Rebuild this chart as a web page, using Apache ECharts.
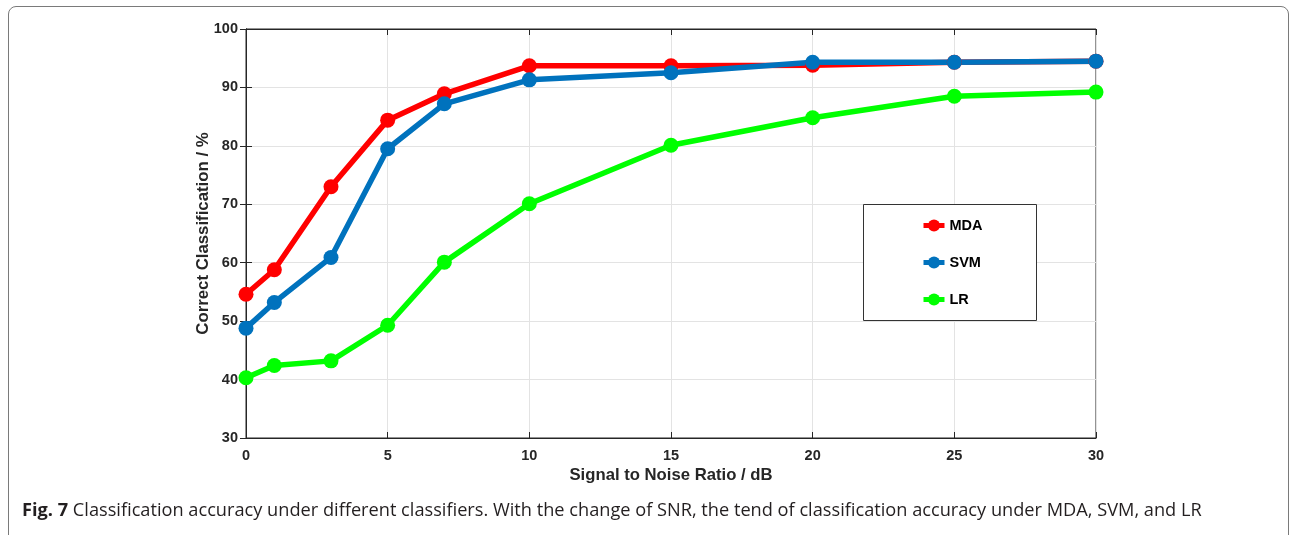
<!DOCTYPE html>
<html>
<head>
<meta charset="utf-8">
<script src="https://cdn.jsdelivr.net/npm/echarts@6/dist/echarts.min.js"></script>
<style>
  html, body { margin: 0; padding: 0; background: #fff; }
  #frame {
    position: absolute; left: 8px; top: 6px; width: 1281px; height: 540px;
    border: 1px solid #7a7a7a; border-radius: 8px; box-sizing: border-box;
  }
  #chart { position: absolute; left: 0; top: 0; width: 1292px; height: 535px; }
</style>
</head>
<body>
<div id="frame"></div>
<div id="chart"></div>
<script>
// SNR values (dB)
const snr = [0, 1, 3, 5, 7, 10, 15, 20, 25, 30];
// accuracy (%)
const mda = [54.6, 58.8, 73.0, 84.4, 88.9, 93.7, 93.7, 93.8, 94.3, 94.5];
const svm = [48.8, 53.2, 60.9, 79.5, 87.2, 91.3, 92.5, 94.3, 94.3, 94.5];
const lr = [40.3, 42.4, 43.2, 49.3, 60.1, 70.1, 80.1, 84.8, 88.5, 89.2];

const seriesDefs = [
  { name: 'MDA', color: '#ff0000', data: mda },
  { name: 'SVM', color: '#0072bd', data: svm },
  { name: 'LR', color: '#00ff00', data: lr }
];

const axisColor = '#262626';
const labelFont = { color: axisColor, fontFamily: 'Liberation Sans, Arial', fontWeight: 'bold', fontSize: 14.5 };

const chart = echarts.init(document.getElementById('chart'), null, { renderer: 'canvas' });

const option = {
  backgroundColor: 'transparent',
  animation: false,
  grid: {
    left: 246, right: 196, top: 29, bottom: 97,
    show: true, borderColor: axisColor, borderWidth: 1
  },
  xAxis: [
    {
      type: 'value', min: 0, max: 30, interval: 5,
      name: 'Signal to Noise Ratio / dB',
      nameLocation: 'middle', nameGap: 29, nameMoveOverlap: false,
      nameTextStyle: { ...labelFont, fontSize: 16.7, verticalAlign: 'top' },
      axisLine: { show: true, lineStyle: { color: axisColor, width: 1 } },
      axisTick: { show: true, inside: true, length: 6, lineStyle: { color: axisColor } },
      axisLabel: { ...labelFont, margin: 10 },
      splitLine: { show: true, lineStyle: { color: '#e3e3e3', width: 1 } }
    },
    {
      type: 'value', min: 0, max: 30, interval: 5, position: 'top',
      axisLine: { show: true, lineStyle: { color: axisColor, width: 1 } },
      axisTick: { show: true, inside: true, length: 6, lineStyle: { color: axisColor } },
      axisLabel: { show: false },
      splitLine: { show: false }
    }
  ],
  yAxis: [
    {
      type: 'value', min: 30, max: 100, interval: 10,
      name: 'Correct Classification / %',
      nameLocation: 'middle', nameGap: 43, nameMoveOverlap: false,
      nameTextStyle: { ...labelFont, fontSize: 16.8, verticalAlign: 'middle' },
      axisLine: { show: true, lineStyle: { color: axisColor, width: 1 } },
      axisTick: { show: true, inside: true, length: 6, lineStyle: { color: axisColor } },
      axisLabel: { ...labelFont, margin: 8 },
      splitLine: { show: true, lineStyle: { color: '#e3e3e3', width: 1 } }
    },
    {
      type: 'value', min: 30, max: 100, interval: 10, position: 'right',
      axisLine: { show: true, lineStyle: { color: axisColor, width: 1 } },
      axisTick: { show: true, inside: true, length: 6, lineStyle: { color: axisColor } },
      axisLabel: { show: false },
      splitLine: { show: false }
    }
  ],
  legend: {
    orient: 'vertical',
    left: 921, top: 218, z: 10,
    itemWidth: 21, itemHeight: 15, itemGap: 22,
    padding: 0,
    lineStyle: { width: 5 },
    textStyle: { color: '#000', fontFamily: 'Liberation Sans, Arial', fontWeight: 'bold', fontSize: 14.5 },
    data: seriesDefs.map((s) => s.name)
  },
  graphic: [
    {
      type: 'rect', left: 863, top: 204, z: 1,
      shape: { width: 173, height: 116 },
      style: { fill: '#fff', stroke: '#333', lineWidth: 1 }
    },
    {
      type: 'text', left: 22, top: 502, z: 10,
      style: {
        text: '{b|Fig. 7} Classification accuracy under different classifiers. With the change of SNR, the tend of classification accuracy under MDA, SVM, and LR',
        rich: {
          b: { fontFamily: 'Open Sans', fontWeight: 'bold', fontSize: 18.2, fill: '#231f20' }
        },
        fontFamily: 'Open Sans', fontSize: 18.2, fill: '#231f20'
      }
    }
  ],
  series: seriesDefs.map((s) => ({
    name: s.name,
    type: 'line',
    data: snr.map((x, i) => [x, s.data[i]]),
    symbol: 'circle',
    symbolSize: 15,
    lineStyle: { width: 5.5, color: s.color },
    itemStyle: { color: s.color },
    z: 3
  }))
};

chart.setOption(option);
</script>
</body>
</html>
